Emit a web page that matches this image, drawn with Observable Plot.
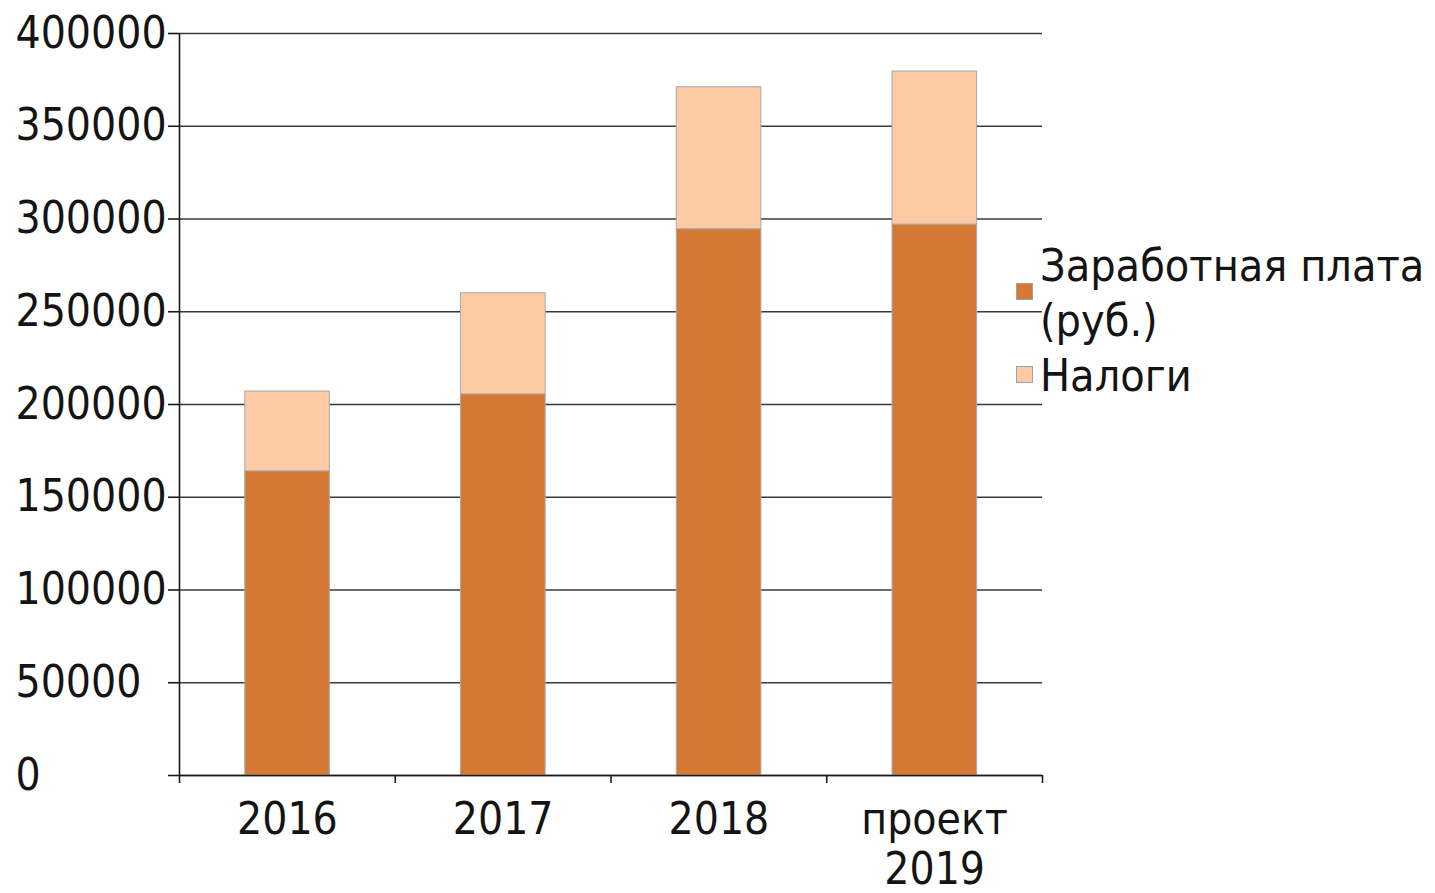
<!DOCTYPE html>
<html><head><meta charset="utf-8">
<script src="https://cdn.jsdelivr.net/npm/d3@7"></script>
<script src="https://cdn.jsdelivr.net/npm/@observablehq/plot@0.6"></script>
<style>
html,body{margin:0;padding:0;background:#fff;}
#wrap{position:relative;width:1435px;height:893px;font-family:"DejaVu Sans Condensed","DejaVu Sans",sans-serif;font-stretch:condensed;color:#141414;}
.leg{position:absolute;left:1040px;font-size:44.5px;line-height:55px;white-space:nowrap;}
.sw{position:absolute;width:15px;height:15px;border:1px solid #a0a0a0;}
</style>
</head><body><div id="wrap"></div>
<script>
const categories = ["2016", "2017", "2018", "проект\n2019"];
const salary = [164000, 205500, 294500, 297000];
const taxes = [43000, 54500, 76500, 82500];
const yTicks = [0, 50000, 100000, 150000, 200000, 250000, 300000, 350000, 400000];
const seriesNames = ["Заработная плата (руб.)", "Налоги"];
const legendLines = [["Заработная плата", "(руб.)"], ["Налоги"]];
const colors = ["#D57833", "#FCCBA6"];

const rows = categories.flatMap((c, i) => [
  {i, series: seriesNames[0], y1: 0, y2: salary[i]},
  {i, series: seriesNames[1], y1: salary[i], y2: salary[i] + taxes[i]}
]);

const chart = Plot.plot({
  width: 1435, height: 893,
  marginLeft: 179, marginRight: 393, marginTop: 33, marginBottom: 118,
  x: {type: "linear", domain: [0, categories.length], axis: null},
  y: {domain: [0, 400000], axis: null},
  color: {domain: seriesNames, range: colors},
  style: {fontFamily: "'DejaVu Sans Condensed','DejaVu Sans',sans-serif", fontStretch: "condensed", fontSize: "44px", color: "#141414", background: "#fff"},
  marks: [
    Plot.ruleY(yTicks, {stroke: "#3a3a3a", strokeWidth: 1.6}),
    Plot.rect(rows, {x1: d => d.i + 0.305, x2: d => d.i + 0.697, y1: "y1", y2: "y2", fill: "series", stroke: "#a8a8a8", strokeWidth: 1}),
    Plot.ruleX([0], {stroke: "#1a1a1a", strokeWidth: 1.6}),
    Plot.ruleY([0], {stroke: "#1a1a1a", strokeWidth: 1.6}),
    Plot.axisY({ticks: yTicks, tickSize: 11, tickFormat: () => "", stroke: "#1a1a1a", strokeWidth: 1.6}),
    Plot.axisY({ticks: yTicks, tickSize: 0, tickPadding: 3, tickFormat: d => String(d), textAnchor: "start", dx: -161, fontSize: 44, fill: "#141414"}),
    Plot.axisX({ticks: d3.range(categories.length + 1), tickSize: 8, tickFormat: () => "", stroke: "#1a1a1a", strokeWidth: 1.6}),
    Plot.text(categories, {x: (d, i) => i + 0.5, y: 0, dy: 23, lineAnchor: "top", lineHeight: 1.13, fontSize: 44, fill: "#141414"})
  ]
});
const wrap = document.getElementById("wrap");
wrap.appendChild(chart);

// legend
const tops = [238, 348];
const swTops = [283, 366];
legendLines.forEach((lines, k) => {
  const d = document.createElement("div");
  d.className = "leg";
  d.style.top = tops[k] + "px";
  d.innerHTML = lines.join("<br>");
  wrap.appendChild(d);
  const s = document.createElement("div");
  s.className = "sw";
  s.style.left = "1016px";
  s.style.top = swTops[k] + "px";
  s.style.background = colors[k];
  wrap.appendChild(s);
});
</script></body></html>
